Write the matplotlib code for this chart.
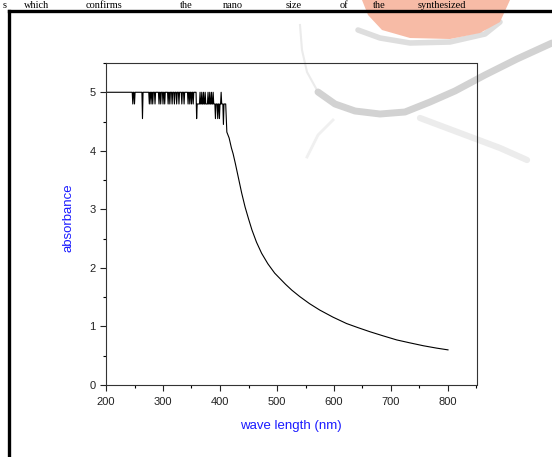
import matplotlib
matplotlib.use("Agg")
import matplotlib.pyplot as plt
from matplotlib.lines import Line2D
from matplotlib.patches import Polygon
from matplotlib.ticker import MultipleLocator
import numpy as np

# saturated plateau (detector limit) with noise spikes
plateau_start, plateau_switch, plateau_end = 200, 360, 410
spikes_high = [247, 250, 276, 279, 282, 286, 293, 296, 300, 303, 309, 312,
               316, 320, 324, 328, 333, 337, 344, 347, 350, 353, 264]
spikes_high_val = [4.8] * 22 + [4.55]
spikes_low = [365, 368, 371, 374, 379, 382, 385, 388, 402, 392, 396, 399, 406]
spikes_low_val = [5.0] * 9 + [4.55, 4.55, 4.55, 4.45]

# smooth absorption edge and tail
wl_curve = [412, 416, 420, 423, 427, 432, 438, 444, 450, 456, 464, 473, 484,
            496, 505, 515, 526, 540, 557, 575, 598, 622, 642, 663, 686, 710,
            733, 757, 780, 800]
abs_curve = [4.32, 4.22, 4.05, 3.95, 3.78, 3.55, 3.28, 3.04, 2.84, 2.65, 2.44,
             2.25, 2.07, 1.91, 1.82, 1.72, 1.62, 1.51, 1.39, 1.28, 1.16, 1.05,
             0.98, 0.91, 0.84, 0.77, 0.72, 0.67, 0.63, 0.60]

header_words = ["s", "which", "confirms", "the", "nano", "size", "of", "the",
                "synthesized"]


def spiky(base, start, end, pos, val):
    xs, ys = [start], [base]
    for w, v in sorted(zip(pos, val)):
        xs += [w - 1, w, w + 1]
        ys += [base, v, base]
    xs.append(end)
    ys.append(base)
    return xs, ys


x1, y1 = spiky(5.0, plateau_start, plateau_switch - 2, spikes_high, spikes_high_val)
x2, y2 = spiky(4.8, plateau_switch, plateau_end, spikes_low, spikes_low_val)
x = np.array(x1 + [plateau_switch - 1] + x2 + wl_curve, dtype=float)
y = np.array(y1 + [4.55] + y2 + abs_curve, dtype=float)

W, H = 552, 457
fig = plt.figure(figsize=(W / 100, H / 100), dpi=100)
plt.rcParams["font.family"] = ["Liberation Sans", "DejaVu Sans"]


def px(xp, yp):
    return (xp / W, 1 - yp / H)


def fig_line(xs, ys, **kw):
    fig.add_artist(Line2D([a / W for a in xs], [1 - b / H for b in ys],
                          transform=fig.transFigure, zorder=-2, **kw))


# faint watermark behind the chart
fig_line([358, 380, 410, 450, 485, 500], [30, 38, 43, 42, 34, 22],
         color="#dedede", lw=4, solid_capstyle="round")
red = Polygon([px(*p) for p in [(362, 0), (510, 0), (500, 22), (480, 33),
                                (450, 39), (410, 38), (382, 30), (368, 15)]],
              closed=True, transform=fig.transFigure, facecolor="#f7bba6",
              edgecolor="none", zorder=-2)
fig.add_artist(red)
fig_line([300, 302, 307, 318], [25, 50, 72, 92], color="#ebebeb", lw=1.5)
fig_line([318, 335, 355, 380, 405, 430, 455, 485, 517, 552],
         [92, 104, 111, 114, 112, 102, 91, 75, 59, 43],
         color="#d2d2d2", lw=5, solid_capstyle="round")
fig_line([307, 318, 333], [157, 135, 120], color="#f0f0f0", lw=2)
fig_line([420, 460, 500, 527], [118, 133, 148, 160], color="#ececec", lw=4.5,
         solid_capstyle="round")

# page frame and header text line
fig.add_artist(Line2D([8.5 / W, 8.5 / W], [0, 1 - 10.5 / H],
                      transform=fig.transFigure, color="black", lw=2.4))
fig.add_artist(Line2D([8.5 / W, 1], [1 - 10.5 / H, 1 - 10.5 / H],
                      transform=fig.transFigure, color="black", lw=2.4))
word_x = [3, 24, 86, 180, 223, 286, 340, 373, 418]
for wx, wd in zip(word_x, header_words):
    fig.text(wx / W, 1 - 8 / H, wd, family="Liberation Serif", fontsize=7.5,
             va="baseline", ha="left", color="black")

ax = fig.add_axes([106 / W, 1 - 385 / H, 370.5 / W, 322 / H])
ax.patch.set_alpha(0)
ax.plot(x, y, color="black", lw=0.8)

ax.set_xlim(200, 850)
ax.set_ylim(0, 5.5)
ax.xaxis.set_major_locator(MultipleLocator(100))
ax.xaxis.set_minor_locator(MultipleLocator(50))
ax.yaxis.set_major_locator(MultipleLocator(1))
ax.yaxis.set_minor_locator(MultipleLocator(0.5))
ax.tick_params(which="major", length=4, width=0.8, labelsize=8,
               colors="#222222", direction="out")
ax.tick_params(which="minor", length=2, width=0.8, direction="out")
ax.tick_params(axis="x", pad=4.5)
ax.tick_params(axis="y", pad=3.5)
for s in ax.spines.values():
    s.set_linewidth(0.8)
    s.set_color("#333333")

ax.set_xlabel("wave length (nm)", color="#1a1aff", fontsize=9.5, va="center")
ax.xaxis.set_label_coords(0.5, -(426 - 385) / 322)
ax.set_ylabel("absorbance", color="#1a1aff", fontsize=9.5, va="center")
ax.yaxis.set_label_coords((68 - 106) / 370.5, (385 - 218) / 322)

fig.savefig("out.png", dpi=100)
